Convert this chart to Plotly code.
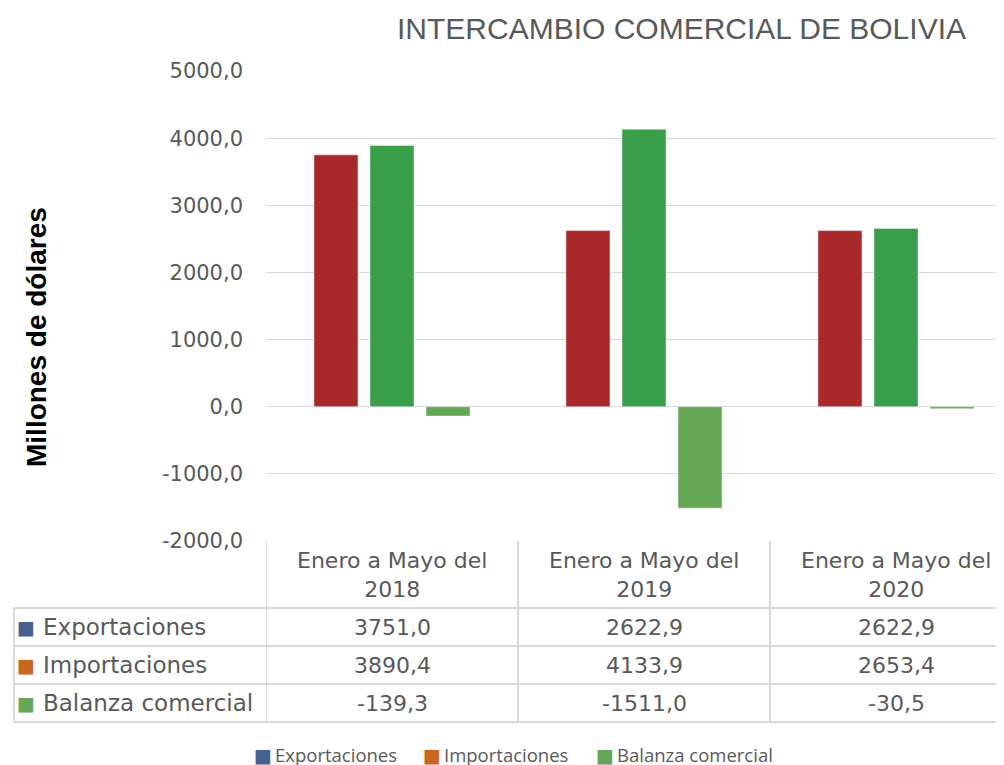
import plotly.graph_objects as go

# ---------------- data ----------------
categories = ["Enero a Mayo del 2018", "Enero a Mayo del 2019", "Enero a Mayo del 2020"]
header_lines = [["Enero a Mayo del", "2018"], ["Enero a Mayo del", "2019"], ["Enero a Mayo del", "2020"]]
series_names = ["Exportaciones", "Importaciones", "Balanza comercial"]
exportaciones = [3751.0, 2622.9, 2622.9]
importaciones = [3890.4, 4133.9, 2653.4]
balanza = [-139.3, -1511.0, -30.5]
tick_values = [-2000, -1000, 0, 1000, 2000, 3000, 4000, 5000]
tick_labels = ["-2000,0", "-1000,0", "0,0", "1000,0", "2000,0", "3000,0", "4000,0", "5000,0"]

bar_colors = ["#A9292B", "#3A9F4B", "#63A757"]
legend_colors = ["#46608F", "#C8661F", "#63A757"]

W, H = 1004, 765
OFF = 8  # the page body margin shifts the figure by 8 px
GRAY = "#595959"
LINE = "#D9D9D9"
CAT_PX = 252.0  # width of one category column


def px(x):
    return (x - OFF) / W


def py(y):
    return 1 - (y - OFF) / H


def fmt(v):
    return f"{v:.1f}".replace(".", ",")


fig = go.Figure()
for name, vals, col in zip(series_names, [exportaciones, importaciones, balanza], bar_colors):
    fig.add_trace(go.Bar(
        x=categories, y=vals, name=name,
        marker=dict(color=col, line=dict(color="rgba(255,255,255,0.45)", width=1)),
        showlegend=False,
    ))

# y range slightly padded so the end gridlines are drawn
pad = 4
unit_px = (541 - 71) / 7000.0
x_dom_px = W - (266 - OFF)           # plot area runs to the right edge of the figure
x_hi = -0.5 + x_dom_px / CAT_PX        # third column continues beyond the picture edge

fig.update_layout(
    width=W, height=H,
    margin=dict(l=0, r=0, t=0, b=0, autoexpand=False),
    paper_bgcolor="white", plot_bgcolor="white",
    barmode="group", bargap=0.333, bargroupgap=0.214,
    showlegend=False,
    xaxis=dict(domain=[px(266), 1], type="category", range=[-0.5, x_hi],
               showticklabels=False, showgrid=False, zeroline=False, showline=False,
               ticks="", automargin=False),
    yaxis=dict(domain=[py(541 + pad * unit_px), py(71 - pad * unit_px)],
               range=[-2000 - pad, 5000 + pad],
               tickvals=tick_values, ticktext=tick_labels,
               tickfont=dict(family="DejaVu Sans", size=21, color=GRAY),
               ticklabelstandoff=22,
               showgrid=True, gridcolor=LINE, gridwidth=1.3,
               zeroline=False, showline=False, ticks="", automargin=False),
    font=dict(family="DejaVu Sans", color=GRAY),
)

annotations = []
shapes = []

# title
annotations.append(dict(text="INTERCAMBIO COMERCIAL DE BOLIVIA", x=px(681), y=py(28),
                        xref="paper", yref="paper", showarrow=False,
                        xanchor="center", yanchor="middle",
                        font=dict(family="Liberation Sans", size=30, color=GRAY)))
# y-axis title
annotations.append(dict(text="<b>Millones de dólares</b>", x=px(36), y=py(337),
                        xref="paper", yref="paper", showarrow=False, textangle=-90,
                        xanchor="center", yanchor="middle",
                        font=dict(family="Liberation Sans", size=28, color="black")))

# ---------------- data table ----------------
table_top = 541
header_bottom = 608
row_bottoms = [646, 684, 722]
row_centers = [627, 665, 703]
left_edge = 14

for yy in [header_bottom] + row_bottoms:
    shapes.append(dict(type="line", xref="paper", yref="paper",
                       x0=px(left_edge), x1=1, y0=py(yy), y1=py(yy),
                       line=dict(color=LINE, width=2)))
shapes.append(dict(type="line", xref="paper", yref="paper",
                   x0=px(left_edge), x1=px(left_edge), y0=py(header_bottom), y1=py(722),
                   line=dict(color=LINE, width=2)))
for xb in [-0.5, 0.5, 1.5]:
    shapes.append(dict(type="line", xref="x", yref="paper",
                       x0=xb, x1=xb, y0=py(table_top), y1=py(722),
                       line=dict(color=LINE, width=2)))

for i, lines in enumerate(header_lines):
    annotations.append(dict(text="<br>".join(lines), x=i, y=py(575), xref="x", yref="paper",
                            showarrow=False, xanchor="center", yanchor="middle",
                            font=dict(family="DejaVu Sans", size=22, color=GRAY)))

for r, (name, vals) in enumerate(zip(series_names, [exportaciones, importaciones, balanza])):
    annotations.append(dict(text="■", x=px(26), y=py(row_centers[r]), xref="paper", yref="paper",
                            showarrow=False, xanchor="center", yanchor="middle",
                            font=dict(family="DejaVu Sans", size=19, color=legend_colors[r])))
    annotations.append(dict(text=name, x=px(41), y=py(row_centers[r]), xref="paper", yref="paper",
                            showarrow=False, xanchor="left", yanchor="middle",
                            font=dict(family="DejaVu Sans", size=23, color=GRAY)))
    for i, v in enumerate(vals):
        annotations.append(dict(text=fmt(v), x=i, y=py(row_centers[r]), xref="x", yref="paper",
                                showarrow=False, xanchor="center", yanchor="middle",
                                font=dict(family="DejaVu Sans", size=22, color=GRAY)))

# ---------------- bottom legend ----------------
legend_x = [263, 432, 605]
for name, col, lx in zip(series_names, legend_colors, legend_x):
    annotations.append(dict(text="■", x=px(lx), y=py(755), xref="paper", yref="paper",
                            showarrow=False, xanchor="center", yanchor="middle",
                            font=dict(family="DejaVu Sans", size=19, color=col)))
    annotations.append(dict(text=name, x=px(lx + 10), y=py(754), xref="paper", yref="paper",
                            showarrow=False, xanchor="left", yanchor="middle",
                            font=dict(family="Open Sans", size=18.5, color=GRAY)))

fig.update_layout(annotations=annotations, shapes=shapes)
fig.write_html("out.html")
